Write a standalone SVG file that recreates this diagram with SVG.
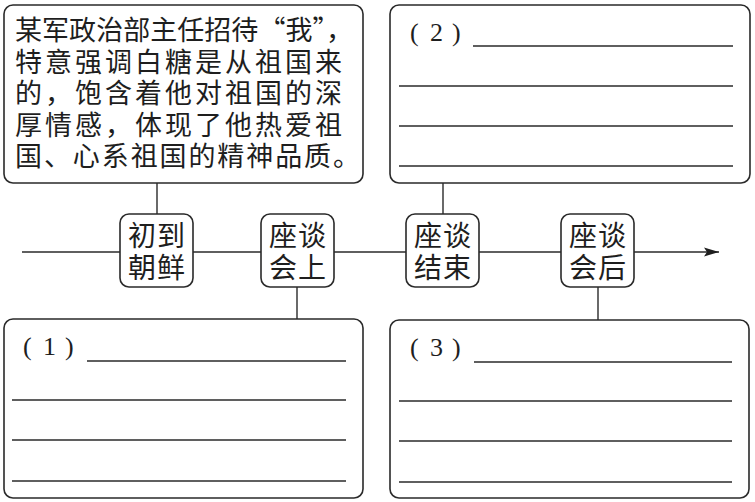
<svg xmlns="http://www.w3.org/2000/svg" width="755" height="502" viewBox="0 0 755 502">
<defs>
<style>
.box{fill:#fff;stroke:#2a2a2a;stroke-width:1.6}
.ln{stroke:#2a2a2a;stroke-width:1.4;fill:none}
.cn{font-family:"Noto Sans CJK SC","Noto Sans",sans-serif;fill:#1e1e1e}
.big{font-size:27px}
.nd{font-size:28px;text-anchor:middle;letter-spacing:1px}
.num{font-family:"Liberation Serif",serif;font-size:26px;fill:#1e1e1e}
</style>
<marker id="arr" markerWidth="16" markerHeight="10" refX="15" refY="5" orient="auto" markerUnits="userSpaceOnUse">
<path d="M0,0.5 L15,5 L0,9.5 L3,5 Z" fill="#1e1e1e"/>
</marker>
</defs>
<rect width="755" height="502" fill="#fff"/>
<g id="connectors">
<line class="ln" x1="22" y1="252" x2="719" y2="252" marker-end="url(#arr)"/>
<line class="ln" x1="157" y1="183" x2="157" y2="214"/>
<line class="ln" x1="297" y1="287" x2="297" y2="319"/>
<line class="ln" x1="443" y1="183" x2="443" y2="214"/>
<line class="ln" x1="598" y1="287" x2="598" y2="320"/>
</g>
<g id="box-intro">
<rect class="box" x="4" y="5" width="359" height="178" rx="9"/>
<text class="cn big" x="15" y="40" textLength="338" lengthAdjust="spacing">某军政治部主任招待“我”，</text>
<text class="cn big" x="15" y="71.5" textLength="327" lengthAdjust="spacing">特意强调白糖是从祖国来</text>
<text class="cn big" x="15" y="103" textLength="327" lengthAdjust="spacing">的，饱含着他对祖国的深</text>
<text class="cn big" x="15" y="134.5" textLength="327" lengthAdjust="spacing">厚情感，体现了他热爱祖</text>
<text class="cn big" x="15" y="166" textLength="345" lengthAdjust="spacing">国、心系祖国的精神品质。</text>
</g>
<g id="box-2">
<rect class="box" x="390" y="5" width="360" height="178" rx="9"/>
<text class="num" y="41"><tspan x="410">(</tspan><tspan x="430">2</tspan><tspan x="452">)</tspan></text>
<line class="ln" x1="473" y1="46" x2="733" y2="46"/>
<line class="ln" x1="399" y1="86" x2="733" y2="86"/>
<line class="ln" x1="399" y1="126" x2="733" y2="126"/>
<line class="ln" x1="399" y1="166" x2="733" y2="166"/>
</g>
<g id="box-1">
<rect class="box" x="4" y="319" width="359" height="179" rx="9"/>
<text class="num" y="355"><tspan x="23">(</tspan><tspan x="43">1</tspan><tspan x="65">)</tspan></text>
<line class="ln" x1="87" y1="361" x2="346" y2="361"/>
<line class="ln" x1="12" y1="400" x2="346" y2="400"/>
<line class="ln" x1="12" y1="440" x2="346" y2="440"/>
<line class="ln" x1="12" y1="481" x2="346" y2="481"/>
</g>
<g id="box-3">
<rect class="box" x="390" y="320" width="359" height="178" rx="9"/>
<text class="num" y="356"><tspan x="410">(</tspan><tspan x="430">3</tspan><tspan x="452">)</tspan></text>
<line class="ln" x1="474" y1="362" x2="732" y2="362"/>
<line class="ln" x1="399" y1="401" x2="732" y2="401"/>
<line class="ln" x1="399" y1="441" x2="732" y2="441"/>
<line class="ln" x1="399" y1="482" x2="732" y2="482"/>
</g>
<g id="node-arrive">
<rect class="box" x="120" y="214" width="73" height="73" rx="9"/>
<text class="cn nd" x="157" y="246">初到</text>
<text class="cn nd" x="157" y="278">朝鲜</text>
</g>
<g id="node-meeting">
<rect class="box" x="261" y="214" width="73" height="73" rx="9"/>
<text class="cn nd" x="298" y="246">座谈</text>
<text class="cn nd" x="298" y="278">会上</text>
</g>
<g id="node-end">
<rect class="box" x="406" y="214" width="73" height="73" rx="9"/>
<text class="cn nd" x="443" y="246">座谈</text>
<text class="cn nd" x="443" y="278">结束</text>
</g>
<g id="node-after">
<rect class="box" x="561" y="214" width="73" height="73" rx="9"/>
<text class="cn nd" x="598" y="246">座谈</text>
<text class="cn nd" x="598" y="278">会后</text>
</g>
</svg>
